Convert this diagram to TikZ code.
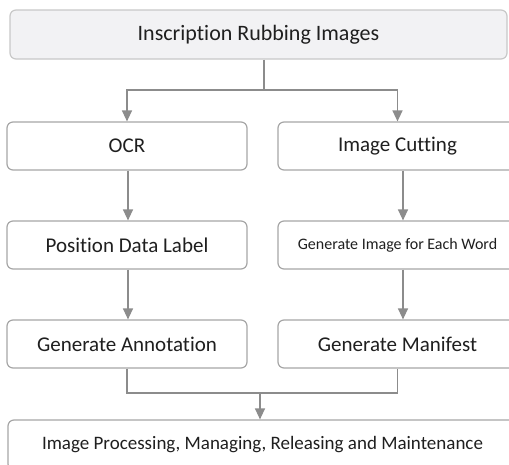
\documentclass[tikz,border=0pt]{standalone}
\usepackage{fontspec}
\setmainfont{Carlito}[RawFeature={-liga}]
\usetikzlibrary{arrows.meta}
\definecolor{boxline}{HTML}{A6A6A6}
\definecolor{topfill}{HTML}{F2F2F4}
\definecolor{topline}{HTML}{C8C8C8}
\definecolor{conn}{HTML}{8C8C8C}
\definecolor{txt}{HTML}{1F1F1F}
\tikzset{
  stepbox/.style={draw=boxline, line width=1.2pt, rounded corners=6pt, fill=white,
    text=txt, inner sep=0pt, minimum height=48pt, font=\fontsize{21}{24}\selectfont},
  conline/.style={draw=conn, line width=1.3pt},
  arr/.style={conline, -{Triangle[width=10pt,length=11pt]}},
}
\begin{document}
\begin{tikzpicture}[x=1pt,y=-1pt]
\useasboundingbox (0,0) rectangle (509,464);
\clip (0,0) rectangle (509,464);
\node[stepbox, draw=topline, fill=topfill, minimum width=497pt, minimum height=49pt,
  font=\fontsize{22}{26}\selectfont] (top) at (258.5,34.5) {Inscription Rubbing Images};
\node[stepbox, minimum width=240pt] (ocr) at (127,146) {OCR};
\node[stepbox, minimum width=239pt] (cut) at (397.5,146) {Image Cutting};
\node[stepbox, minimum width=240pt] (pos) at (127,245) {Position Data Label};
\node[stepbox, minimum width=239pt, font=\fontsize{16}{19}\selectfont] (gen) at (397.5,245) {Generate Image for Each Word};
\node[stepbox, minimum width=240pt] (ann) at (127,344) {Generate Annotation};
\node[stepbox, minimum width=239pt] (man) at (397.5,344) {Generate Manifest};
\node[stepbox, minimum width=509pt, minimum height=50pt, font=\fontsize{19}{22}\selectfont] (bot) at (262.5,445) {Image Processing, Managing, Releasing and Maintenance};
\coordinate (j1) at (264,90);
\coordinate (j2) at (260,393);
\draw[conline] (top.south -| j1) -- (j1);
\draw[arr] (j1) -| (ocr.north);
\draw[arr] (j1) -| (cut.north);
\draw[arr] ([xshift=1pt]ocr.south) -- ([xshift=1pt]pos.north);
\draw[arr] ([xshift=5.5pt]cut.south) -- ([xshift=5.5pt]gen.north);
\draw[arr] ([xshift=1pt]pos.south) -- ([xshift=1pt]ann.north);
\draw[arr] ([xshift=5.5pt]gen.south) -- ([xshift=5.5pt]man.north);
\draw[conline] (ann.south) |- (j2) -| (man.south);
\draw[arr] (j2) -- (bot.north -| j2);
\end{tikzpicture}
\end{document}
